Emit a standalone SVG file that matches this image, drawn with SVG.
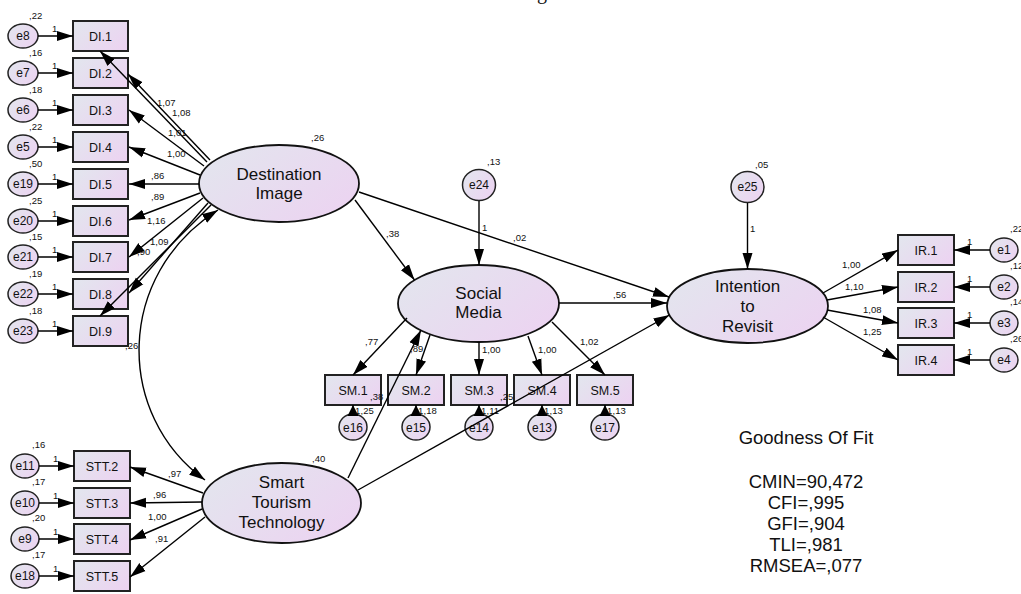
<svg xmlns="http://www.w3.org/2000/svg" width="1021" height="594" viewBox="0 0 1021 594">
<defs>
<linearGradient id="gf" x1="0" y1="0.2" x2="1" y2="0.8">
<stop offset="0" stop-color="#e3e5ee"/>
<stop offset="1" stop-color="#ecd3f1"/>
</linearGradient>
<marker id="a" markerUnits="userSpaceOnUse" markerWidth="17" markerHeight="12" refX="16" refY="6" orient="auto-start-reverse">
<path d="M0,1 L16,6 L0,11 z" fill="#000"/>
</marker>
<marker id="s" markerUnits="userSpaceOnUse" markerWidth="12" markerHeight="12" refX="11" refY="6" orient="auto">
<path d="M0,0.5 L11,6 L0,11.5 z" fill="#000"/>
</marker>
</defs>
<style>
.bx{fill:url(#gf);stroke:#222;stroke-width:2}
.lv{fill:url(#gf);stroke:#111;stroke-width:1.8}
.er{fill:url(#gf);stroke:#222;stroke-width:1.5}
.t{font-family:"Liberation Sans",Arial,sans-serif;fill:#111;text-anchor:middle}
.bt{font-size:12.5px}
.et{font-size:12px}
.lt{font-size:17px}
.s{font-family:"Liberation Sans",Arial,sans-serif;font-size:9.5px;fill:#111}
.gf{font-family:"Liberation Sans",Arial,sans-serif;font-size:18.5px;fill:#111;text-anchor:middle}
.c line,.c path{stroke:#000;stroke-width:1.4;fill:none}
</style>
<rect width="1021" height="594" fill="#fff"/>
<text x="537" y="-1.5" font-family="Liberation Serif" font-size="20" fill="#111">g</text>

<!-- Destination Image indicators -->
<g id="n-DI1"><rect class="bx" x="73" y="21" width="55" height="30"/><text class="t bt" x="100.5" y="40.5">DI.1</text></g>
<g id="n-DI2"><rect class="bx" x="73" y="58" width="55" height="30"/><text class="t bt" x="100.5" y="77.5">DI.2</text></g>
<g id="n-DI3"><rect class="bx" x="73" y="95" width="55" height="30"/><text class="t bt" x="100.5" y="114.5">DI.3</text></g>
<g id="n-DI4"><rect class="bx" x="73" y="132" width="55" height="30"/><text class="t bt" x="100.5" y="151.5">DI.4</text></g>
<g id="n-DI5"><rect class="bx" x="73" y="169" width="55" height="30"/><text class="t bt" x="100.5" y="188.5">DI.5</text></g>
<g id="n-DI6"><rect class="bx" x="73" y="206" width="55" height="30"/><text class="t bt" x="100.5" y="225.5">DI.6</text></g>
<g id="n-DI7"><rect class="bx" x="73" y="242" width="55" height="30"/><text class="t bt" x="100.5" y="261.5">DI.7</text></g>
<g id="n-DI8"><rect class="bx" x="73" y="279" width="55" height="30"/><text class="t bt" x="100.5" y="298.5">DI.8</text></g>
<g id="n-DI9"><rect class="bx" x="73" y="316" width="55" height="30"/><text class="t bt" x="100.5" y="335.5">DI.9</text></g>

<g id="n-e8"><ellipse class="er" cx="23" cy="36" rx="15" ry="12"/><text class="t et" x="23" y="40">e8</text><text class="s" x="29" y="19">,22</text></g>
<g id="n-e7"><ellipse class="er" cx="23" cy="73" rx="15" ry="12"/><text class="t et" x="23" y="77">e7</text><text class="s" x="29" y="56">,16</text></g>
<g id="n-e6"><ellipse class="er" cx="23" cy="110" rx="15" ry="12"/><text class="t et" x="23" y="114">e6</text><text class="s" x="29" y="93">,18</text></g>
<g id="n-e5"><ellipse class="er" cx="23" cy="147" rx="15" ry="12"/><text class="t et" x="23" y="151">e5</text><text class="s" x="29" y="130">,22</text></g>
<g id="n-e19"><ellipse class="er" cx="23" cy="184" rx="15" ry="12"/><text class="t et" x="23" y="188">e19</text><text class="s" x="29" y="167">,50</text></g>
<g id="n-e20"><ellipse class="er" cx="23" cy="221" rx="15" ry="12"/><text class="t et" x="23" y="225">e20</text><text class="s" x="29" y="204">,25</text></g>
<g id="n-e21"><ellipse class="er" cx="23" cy="257" rx="15" ry="12"/><text class="t et" x="23" y="261">e21</text><text class="s" x="29" y="240">,15</text></g>
<g id="n-e22"><ellipse class="er" cx="23" cy="294" rx="15" ry="12"/><text class="t et" x="23" y="298">e22</text><text class="s" x="29" y="277">,19</text></g>
<g id="n-e23"><ellipse class="er" cx="23" cy="331" rx="15" ry="12"/><text class="t et" x="23" y="335">e23</text><text class="s" x="29" y="314">,18</text></g>

<!-- STT indicators -->
<g id="n-STT2"><rect class="bx" x="74" y="451" width="56" height="30"/><text class="t bt" x="102" y="470.5">STT.2</text></g>
<g id="n-STT3"><rect class="bx" x="74" y="488" width="56" height="30"/><text class="t bt" x="102" y="507.5">STT.3</text></g>
<g id="n-STT4"><rect class="bx" x="74" y="524" width="56" height="30"/><text class="t bt" x="102" y="543.5">STT.4</text></g>
<g id="n-STT5"><rect class="bx" x="74" y="561" width="56" height="30"/><text class="t bt" x="102" y="580.5">STT.5</text></g>
<g id="n-e11"><ellipse class="er" cx="25" cy="466" rx="14" ry="12"/><text class="t et" x="25" y="470">e11</text><text class="s" x="32" y="448">,16</text></g>
<g id="n-e10"><ellipse class="er" cx="25" cy="503" rx="14" ry="12"/><text class="t et" x="25" y="507">e10</text><text class="s" x="32" y="485">,17</text></g>
<g id="n-e9"><ellipse class="er" cx="25" cy="539" rx="14" ry="12"/><text class="t et" x="25" y="543">e9</text><text class="s" x="32" y="521">,20</text></g>
<g id="n-e18"><ellipse class="er" cx="25" cy="576" rx="14" ry="12"/><text class="t et" x="25" y="580">e18</text><text class="s" x="32" y="558">,17</text></g>

<!-- SM indicators -->
<g id="n-SM1"><rect class="bx" x="325" y="375" width="56" height="30"/><text class="t bt" x="353" y="394.5">SM.1</text></g>
<g id="n-SM2"><rect class="bx" x="388" y="375" width="56" height="30"/><text class="t bt" x="416" y="394.5">SM.2</text></g>
<g id="n-SM3"><rect class="bx" x="451" y="375" width="56" height="30"/><text class="t bt" x="479" y="394.5">SM.3</text></g>
<g id="n-SM4"><rect class="bx" x="514" y="375" width="56" height="30"/><text class="t bt" x="542" y="394.5">SM.4</text></g>
<g id="n-SM5"><rect class="bx" x="577" y="375" width="56" height="30"/><text class="t bt" x="605" y="394.5">SM.5</text></g>
<g id="n-e16"><ellipse class="er" cx="353" cy="427" rx="14" ry="13"/><text class="t et" x="353" y="431.5">e16</text><text class="s" x="360.5" y="414">,25</text></g>
<g id="n-e15"><ellipse class="er" cx="416" cy="427" rx="14" ry="13"/><text class="t et" x="416" y="431.5">e15</text><text class="s" x="423.5" y="414">,18</text></g>
<g id="n-e14"><ellipse class="er" cx="479" cy="427" rx="14" ry="13"/><text class="t et" x="479" y="431.5">e14</text><text class="s" x="486.5" y="414">,11</text></g>
<g id="n-e13"><ellipse class="er" cx="542" cy="427" rx="14" ry="13"/><text class="t et" x="542" y="431.5">e13</text><text class="s" x="549.5" y="414">,13</text></g>
<g id="n-e17"><ellipse class="er" cx="605" cy="427" rx="14" ry="13"/><text class="t et" x="605" y="431.5">e17</text><text class="s" x="612.5" y="414">,13</text></g>

<!-- IR indicators -->
<g id="n-IR1"><rect class="bx" x="898" y="235" width="56" height="30"/><text class="t bt" x="926" y="254.5">IR.1</text></g>
<g id="n-IR2"><rect class="bx" x="898" y="272" width="56" height="30"/><text class="t bt" x="926" y="291.5">IR.2</text></g>
<g id="n-IR3"><rect class="bx" x="898" y="308" width="56" height="30"/><text class="t bt" x="926" y="327.5">IR.3</text></g>
<g id="n-IR4"><rect class="bx" x="898" y="345" width="56" height="30"/><text class="t bt" x="926" y="364.5">IR.4</text></g>
<g id="n-e1"><ellipse class="er" cx="1004" cy="250" rx="14" ry="12"/><text class="t et" x="1004" y="254">e1</text><text class="s" x="1010" y="232">,22</text></g>
<g id="n-e2"><ellipse class="er" cx="1004" cy="287" rx="14" ry="12"/><text class="t et" x="1004" y="291">e2</text><text class="s" x="1010" y="269">,12</text></g>
<g id="n-e3"><ellipse class="er" cx="1004" cy="323" rx="14" ry="12"/><text class="t et" x="1004" y="327">e3</text><text class="s" x="1010" y="305">,14</text></g>
<g id="n-e4"><ellipse class="er" cx="1004" cy="360" rx="14" ry="12"/><text class="t et" x="1004" y="364">e4</text><text class="s" x="1010" y="342">,26</text></g>

<!-- Latent variables -->
<g id="n-DI"><ellipse class="lv" cx="279" cy="183.5" rx="80" ry="38.5"/><text class="t lt" x="279" y="180">Destination</text><text class="t lt" x="279" y="199">Image</text><text class="s" x="311" y="141">,26</text></g>
<g id="n-SM"><ellipse class="lv" cx="478.5" cy="303.5" rx="80.5" ry="38.5"/><text class="t lt" x="478.5" y="299">Social</text><text class="t lt" x="478.5" y="318">Media</text></g>
<g id="n-IR"><ellipse class="lv" cx="747.5" cy="306" rx="80.5" ry="37"/><text class="t lt" x="747.5" y="292">Intention</text><text class="t lt" x="747.5" y="312">to</text><text class="t lt" x="747.5" y="332">Revisit</text></g>
<g id="n-STT"><ellipse class="lv" cx="281.5" cy="503" rx="79.5" ry="40"/><text class="t lt" x="281.5" y="488">Smart</text><text class="t lt" x="281.5" y="508">Tourism</text><text class="t lt" x="281.5" y="528">Technology</text><text class="s" x="312" y="462">,40</text></g>
<g id="n-e24"><ellipse class="er" cx="479" cy="185" rx="16.5" ry="15.5"/><text class="t et" x="479" y="189">e24</text><text class="s" x="487" y="165">,13</text></g>
<g id="n-e25"><ellipse class="er" cx="747.5" cy="187" rx="16.5" ry="15.5"/><text class="t et" x="747.5" y="191">e25</text><text class="s" x="755" y="168">,05</text></g>

<!-- Connectors -->
<g id="connectors" class="c" marker-end="url(#a)">
<line x1="38" y1="36" x2="73" y2="36"/>
<line x1="38" y1="73" x2="73" y2="73"/>
<line x1="38" y1="110" x2="73" y2="110"/>
<line x1="38" y1="147" x2="73" y2="147"/>
<line x1="38" y1="184" x2="73" y2="184"/>
<line x1="38" y1="221" x2="73" y2="221"/>
<line x1="38" y1="257" x2="73" y2="257"/>
<line x1="38" y1="294" x2="73" y2="294"/>
<line x1="38" y1="331" x2="73" y2="331"/>
<line x1="39" y1="466" x2="74" y2="466"/>
<line x1="39" y1="503" x2="74" y2="503"/>
<line x1="39" y1="539" x2="74" y2="539"/>
<line x1="39" y1="576" x2="74" y2="576"/>
<line x1="990" y1="250" x2="954" y2="250"/>
<line x1="990" y1="287" x2="954" y2="287"/>
<line x1="990" y1="323" x2="954" y2="323"/>
<line x1="990" y1="360" x2="954" y2="360"/>
<line x1="353" y1="414" x2="353" y2="405" marker-end="url(#s)"/>
<line x1="416" y1="414" x2="416" y2="405" marker-end="url(#s)"/>
<line x1="479" y1="414" x2="479" y2="405" marker-end="url(#s)"/>
<line x1="542" y1="414" x2="542" y2="405" marker-end="url(#s)"/>
<line x1="605" y1="414" x2="605" y2="405" marker-end="url(#s)"/>
<line x1="479" y1="201" x2="479" y2="265"/>
<line x1="747.5" y1="203" x2="747.5" y2="269"/>
<line x1="207" y1="162" x2="100" y2="51"/>
<line x1="210" y1="160" x2="128" y2="74"/>
<line x1="204" y1="166" x2="129" y2="110"/>
<line x1="200" y1="175" x2="129" y2="147"/>
<line x1="199" y1="184" x2="129" y2="184"/>
<line x1="200" y1="193" x2="129" y2="220"/>
<line x1="203" y1="198" x2="129" y2="257"/>
<line x1="208" y1="203" x2="129" y2="293"/>
<line x1="211" y1="205" x2="100" y2="316"/>
<line x1="203" y1="493" x2="130" y2="467"/>
<line x1="202" y1="502" x2="130" y2="503"/>
<line x1="202" y1="509" x2="130" y2="540"/>
<line x1="205" y1="517" x2="130" y2="577"/>
<line x1="407" y1="318" x2="353" y2="375"/>
<line x1="430" y1="335" x2="416" y2="375"/>
<line x1="479" y1="342" x2="479" y2="375"/>
<line x1="528" y1="336" x2="542" y2="375"/>
<line x1="552" y1="322" x2="605" y2="375"/>
<line x1="823" y1="293" x2="898" y2="250"/>
<line x1="827" y1="300" x2="898" y2="287"/>
<line x1="827" y1="310" x2="898" y2="323"/>
<line x1="823" y1="317" x2="898" y2="360"/>
<line x1="355" y1="200" x2="414.5" y2="280"/>
<line x1="359" y1="192" x2="669" y2="297"/>
<line x1="559" y1="303" x2="667" y2="303"/>
<line x1="348" y1="478" x2="421" y2="330"/>
<line x1="358" y1="490" x2="669.5" y2="315"/>
<path d="M218,210 C115,275 115,415 205,480" marker-start="url(#a)"/>
</g>

<!-- Path labels -->
<g id="labels">
<text class="s" x="52" y="32">1</text><text class="s" x="52" y="69">1</text><text class="s" x="52" y="106">1</text>
<text class="s" x="52" y="143">1</text><text class="s" x="52" y="180">1</text><text class="s" x="52" y="217">1</text>
<text class="s" x="52" y="253">1</text><text class="s" x="52" y="290">1</text><text class="s" x="52" y="327">1</text>
<text class="s" x="53" y="462">1</text><text class="s" x="53" y="499">1</text><text class="s" x="53" y="535">1</text><text class="s" x="53" y="572">1</text>
<text class="s" x="967" y="245">1</text><text class="s" x="967" y="282">1</text><text class="s" x="967" y="318">1</text><text class="s" x="967" y="355">1</text>
<text class="s" x="355" y="414">1</text><text class="s" x="418" y="414">1</text><text class="s" x="481" y="414">1</text><text class="s" x="544" y="414">1</text><text class="s" x="607" y="414">1</text>
<text class="s" x="482" y="231">1</text>
<text class="s" x="750" y="232">1</text>
<text class="s" x="157" y="106">1,07</text>
<text class="s" x="172" y="116">1,08</text>
<text class="s" x="168" y="136">1,01</text>
<text class="s" x="167" y="157">1,00</text>
<text class="s" x="151" y="179">,86</text>
<text class="s" x="151" y="200">,89</text>
<text class="s" x="147" y="224">1,16</text>
<text class="s" x="150" y="245">1,09</text>
<text class="s" x="137" y="255">,90</text>
<text class="s" x="125" y="349">,26</text>
<text class="s" x="168" y="477">,97</text>
<text class="s" x="153" y="498">,96</text>
<text class="s" x="148" y="520">1,00</text>
<text class="s" x="155" y="542">,91</text>
<text class="s" x="365" y="345">,77</text>
<text class="s" x="410" y="352">,89</text>
<text class="s" x="482" y="353">1,00</text>
<text class="s" x="538" y="353">1,00</text>
<text class="s" x="580" y="345">1,02</text>
<text class="s" x="386" y="237">,38</text>
<text class="s" x="513" y="241">,02</text>
<text class="s" x="613" y="298">,56</text>
<text class="s" x="370" y="400">,38</text>
<text class="s" x="500" y="400">,25</text>
<text class="s" x="842" y="268">1,00</text>
<text class="s" x="845" y="290">1,10</text>
<text class="s" x="863" y="313">1,08</text>
<text class="s" x="863" y="335">1,25</text>
</g>

<g id="fit">
<text class="gf" x="806" y="444">Goodness Of Fit</text>
<text class="gf" x="806" y="488">CMIN=90,472</text>
<text class="gf" x="806" y="509">CFI=,995</text>
<text class="gf" x="806" y="530">GFI=,904</text>
<text class="gf" x="806" y="551">TLI=,981</text>
<text class="gf" x="806" y="572">RMSEA=,077</text>
</g>
</svg>
